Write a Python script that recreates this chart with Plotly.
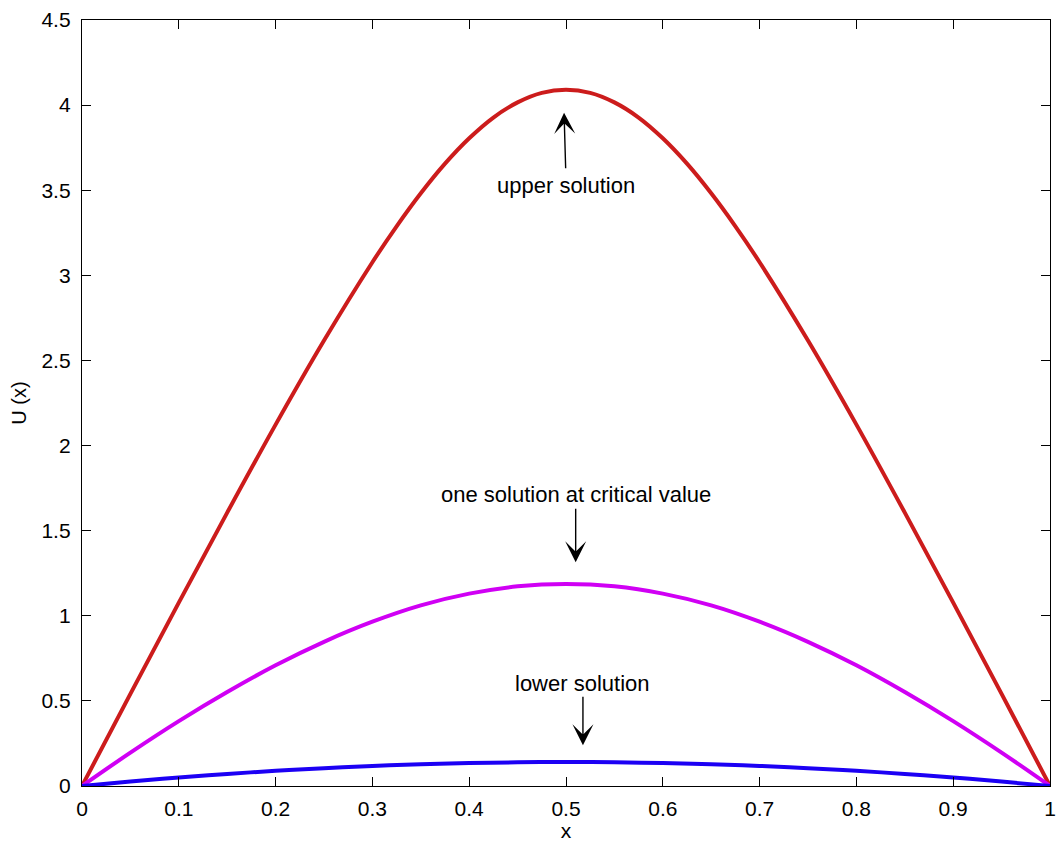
import plotly.graph_objects as go

# Sample positions along the interval [0, 1]
x_vals = [0.0, 0.05, 0.1, 0.15, 0.2, 0.25, 0.3, 0.35, 0.4, 0.45, 0.5,
          0.55, 0.6, 0.65, 0.7, 0.75, 0.8, 0.85, 0.9, 0.95, 1.0]
# The upper profile bends sharply near its peak, so it is sampled more finely there
x_upper = [0.0, 0.05, 0.1, 0.15, 0.2, 0.25, 0.3, 0.325, 0.35, 0.375, 0.4, 0.425, 0.45, 0.475, 0.5,
           0.525, 0.55, 0.575, 0.6, 0.625, 0.65, 0.675, 0.7, 0.75, 0.8, 0.85, 0.9, 0.95, 1.0]

# Solution profiles U(x)
upper_vals = [0.0, 0.541, 1.077, 1.606, 2.123, 2.617, 3.077, 3.288, 3.482, 3.656, 3.805, 3.927, 4.016, 4.072, 4.090,
              4.072, 4.016, 3.927, 3.805, 3.656, 3.482, 3.288, 3.077, 2.617, 2.123, 1.606, 1.077, 0.541, 0.0]
critical_vals = [0.0, 0.196, 0.381, 0.552, 0.709, 0.847, 0.965, 1.061, 1.130, 1.173, 1.187,
                 1.173, 1.130, 1.061, 0.965, 0.847, 0.709, 0.552, 0.381, 0.196, 0.0]
lower_vals = [0.0, 0.026, 0.050, 0.071, 0.089, 0.105, 0.118, 0.128, 0.135, 0.139, 0.141,
              0.139, 0.135, 0.128, 0.118, 0.105, 0.089, 0.071, 0.050, 0.026, 0.0]

x_ticks = [0, 0.1, 0.2, 0.3, 0.4, 0.5, 0.6, 0.7, 0.8, 0.9, 1]
x_tick_text = ["0", "0.1", "0.2", "0.3", "0.4", "0.5", "0.6", "0.7", "0.8", "0.9", "1"]
y_ticks = [0, 0.5, 1, 1.5, 2, 2.5, 3, 3.5, 4, 4.5]
y_tick_text = ["0", "0.5", "1", "1.5", "2", "2.5", "3", "3.5", "4", "4.5"]

FONT = "Liberation Sans, Arial, Helvetica, sans-serif"

fig = go.Figure()
fig.add_trace(go.Scatter(x=x_upper, y=upper_vals, mode="lines",
                         line=dict(color="#cc1c1c", width=4, shape="spline"),
                         showlegend=False))
fig.add_trace(go.Scatter(x=x_vals, y=critical_vals, mode="lines",
                         line=dict(color="#d000f4", width=4, shape="spline"),
                         showlegend=False))
fig.add_trace(go.Scatter(x=x_vals, y=lower_vals, mode="lines",
                         line=dict(color="#1c00f4", width=4, shape="spline"),
                         showlegend=False))

# Labels and arrows (arrow head at hx, hy; tail at tlx, tly)
labels = [
    dict(text="upper solution", tx=0.5005, ty=3.53, hx=0.498, hy=3.955, tlx=0.4997, tly=3.62),
    dict(text="one solution at critical value", tx=0.510, ty=1.715, hx=0.510, hy=1.315, tlx=0.510, tly=1.637),
    dict(text="lower solution", tx=0.5175, ty=0.603, hx=0.5175, hy=0.24, tlx=0.5175, tly=0.533),
]
for lb in labels:
    fig.add_annotation(x=lb["tx"], y=lb["ty"], xref="x", yref="y", text=lb["text"],
                       showarrow=False, font=dict(family=FONT, size=22, color="black"))
    fig.add_annotation(x=lb["hx"], y=lb["hy"], xref="x", yref="y", text="",
                       ax=lb["tlx"], ay=lb["tly"], axref="x", ayref="y",
                       showarrow=True, arrowhead=3, arrowsize=2.5, arrowwidth=1.4,
                       arrowcolor="black")

axis_common = dict(showline=True, linecolor="black", linewidth=1.3, mirror="ticks",
                   ticks="inside", ticklen=9, tickwidth=1, tickcolor="black",
                   showgrid=False, zeroline=False, ticklabeloverflow="allow",
                   automargin=False,
                   tickfont=dict(family=FONT, size=21, color="black"))

fig.update_xaxes(range=[0, 1], tickvals=x_ticks, ticktext=x_tick_text, ticklabelstandoff=4,
                 title=dict(text="x", font=dict(family=FONT, size=21, color="black"), standoff=9),
                 **axis_common)
fig.update_yaxes(range=[0, 4.5], tickvals=y_ticks, ticktext=y_tick_text, ticklabelstandoff=6,
                 title=dict(text="U (x)", font=dict(family=FONT, size=20, color="black"), standoff=9),
                 **axis_common)

fig.update_layout(width=1056, height=842, plot_bgcolor="white", paper_bgcolor="white",
                  margin=dict(l=82, r=6, t=20, b=56), font=dict(family=FONT))

fig.write_html("out.html")
